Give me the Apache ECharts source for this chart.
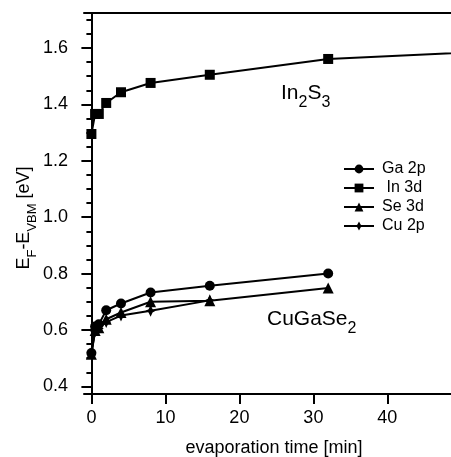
<!DOCTYPE html>
<html>
<head>
<meta charset="utf-8">
<script src="https://cdn.jsdelivr.net/npm/echarts@6/dist/echarts.min.js"></script>
<style>
html,body{margin:0;padding:0;background:#fff;}
#chart{width:451px;height:457px;}
</style>
</head>
<body>
<div id="chart"></div>
<script>
// ---- data (evaporation time in min, E_F - E_VBM in eV) ----
const timeIn = [0, 0.5, 1, 2, 4, 8, 16, 32, 64];
const in3d   = [1.295, 1.366, 1.366, 1.405, 1.443, 1.476, 1.505, 1.561, 1.600];

const timeGa = [0, 0.5, 1, 2, 4, 8, 16, 32];
const ga2p   = [0.518, 0.612, 0.620, 0.670, 0.694, 0.733, 0.757, 0.800];

const timeSe = [0, 0.5, 1, 2, 4, 8, 16, 32];
const se3d   = [0.514, 0.598, 0.608, 0.638, 0.662, 0.700, 0.704, 0.749];

const timeCu = [0, 0.5, 1, 2, 4, 8, 16];
const cu2p   = [0.520, 0.595, 0.605, 0.628, 0.651, 0.668, 0.705];

const seriesNames = ['Ga 2p', ' In 3d', 'Se 3d', 'Cu 2p'];
const xTicks = [0, 10, 20, 30, 40];
const yTicks = [0.4, 0.6, 0.8, 1.0, 1.2, 1.4, 1.6];
const yMinorTicks = [];
for (let i = 8; i <= 34; i++) { if (i % 4 !== 0) yMinorTicks.push(+(i * 0.05).toFixed(2)); }

function pairs(xs, ys) { return xs.map((x, i) => [x, ys[i]]); }

const FONT = '"Liberation Sans", Arial, Helvetica, sans-serif';
const starPath = 'path://M0,-6 L2,-1.6 L5,0 L2,1.6 L0,6 L-2,1.6 L-5,0 L-2,-1.6 Z';

const chart = echarts.init(document.getElementById('chart'), null, {renderer: 'canvas'});

function lineSeries(name, data, symbol, size) {
  return {
    name: name, type: 'line', data: data,
    symbol: symbol, symbolSize: size,
    showSymbol: true, clip: true,
    itemStyle: {color: '#000', borderWidth: 0},
    lineStyle: {color: '#000', width: 2},
    emphasis: {disabled: true},
    animation: false
  };
}

const option = {
  animation: false,
  backgroundColor: '#fff',
  grid: {left: 84, right: -2, top: 13, bottom: 63},
  xAxis: [{
    type: 'value', position: 'bottom', min: -1, max: 48.6,
    axisLine: {show: true, lineStyle: {color: '#000', width: 2}},
    axisTick: {show: true, customValues: xTicks, length: 10, lineStyle: {color: '#000', width: 2}},
    axisLabel: {show: true, customValues: xTicks, margin: 15, color: '#000', fontSize: 18, fontFamily: FONT},
    splitLine: {show: false}
  }, {
    type: 'value', position: 'top', min: -1, max: 48.6,
    axisLine: {show: true, lineStyle: {color: '#000', width: 2}},
    axisTick: {show: false}, axisLabel: {show: false}, splitLine: {show: false}
  }],
  yAxis: [{
    type: 'value', position: 'left', min: 0.373, max: 1.724,
    axisLine: {show: true, lineStyle: {color: '#000', width: 2}},
    axisTick: {show: true, customValues: yTicks, length: 10, lineStyle: {color: '#000', width: 2}},
    axisLabel: {show: true, customValues: yTicks, margin: 16, color: '#000', fontSize: 18, fontFamily: FONT,
      formatter: v => v.toFixed(1)},
    splitLine: {show: false}
  }, {
    type: 'value', position: 'left', min: 0.373, max: 1.724,
    axisLine: {show: false},
    axisTick: {show: true, customValues: yMinorTicks, length: 5, lineStyle: {color: '#000', width: 2}},
    axisLabel: {show: false}, splitLine: {show: false}
  }],
  legend: {
    orient: 'vertical', left: 343, top: 161, padding: 0,
    itemWidth: 30, itemHeight: 11, itemGap: 3,
    data: seriesNames,
    textStyle: {color: '#000', fontSize: 16, fontFamily: FONT, padding: [0, 0, 0, 3]},
    selectedMode: false
  },
  series: [
    lineSeries(seriesNames[0], pairs(timeGa, ga2p), 'circle', 10),
    lineSeries(seriesNames[1], pairs(timeIn, in3d), 'rect', 10),
    lineSeries(seriesNames[2], pairs(timeSe, se3d), 'triangle', 11),
    lineSeries(seriesNames[3], pairs(timeCu, cu2p), starPath, [10, 12])
  ],
  graphic: [
    {
      type: 'text', left: 281, top: 83, silent: true,
      style: {
        text: '{m|In}{s|2}{m|S}{s|3}',
        fill: '#000',
        rich: {
          m: {fontSize: 21, fontFamily: FONT, lineHeight: 23, fill: '#000'},
          s: {fontSize: 16, fontFamily: FONT, lineHeight: 35, verticalAlign: 'bottom', fill: '#000'}
        }
      }
    },
    {
      type: 'text', left: 267, top: 309, silent: true,
      style: {
        text: '{m|CuGaSe}{s|2}',
        fill: '#000',
        rich: {
          m: {fontSize: 21, fontFamily: FONT, lineHeight: 23, fill: '#000'},
          s: {fontSize: 16, fontFamily: FONT, lineHeight: 35, verticalAlign: 'bottom', fill: '#000'}
        }
      }
    },
    {
      type: 'text', x: 24, y: 218, rotation: Math.PI / 2, silent: true,
      style: {
        text: '{m|E}{s|F}{m|-E}{s|VBM}{m| [eV]}',
        fill: '#000', align: 'center', verticalAlign: 'middle',
        rich: {
          m: {fontSize: 18, fontFamily: FONT, lineHeight: 20, fill: '#000'},
          s: {fontSize: 13, fontFamily: FONT, lineHeight: 30, verticalAlign: 'bottom', fill: '#000'}
        }
      }
    },
    {
      type: 'text', x: 274, y: 448, silent: true,
      style: {
        text: 'evaporation time [min]', fill: '#000',
        font: '18px ' + FONT, align: 'center', verticalAlign: 'middle'
      }
    }
  ]
};
chart.setOption(option);
</script>
</body>
</html>
